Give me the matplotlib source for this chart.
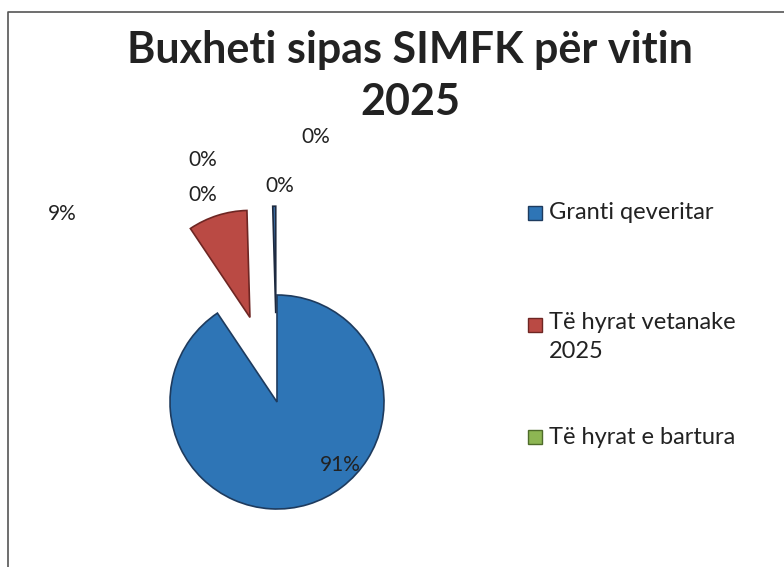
import matplotlib.pyplot as plt
from matplotlib.patches import Rectangle
from matplotlib.lines import Line2D

# data
names = ['Granti qeveritar', 'Të hyrat vetanake\n2025', 'Të hyrat e bartura']
values = [90.6, 8.95, 0.0, 0.0, 0.45, 0.0]
colors = ['#2E75B6', '#BA4A44', '#8DB653', '#7F63A1', '#3D6FA5', '#F08A3C']
edges = ['#1E3B5E', '#6E2623', '#4E6B2A', '#45345C', '#1E2A40', '#8A4A1A']
explode = [0, 0.83, 0.83, 0.83, 0.83, 0.83]
# label centres in pixels (x, y), same order as values
label_px = [(340, 465), (62, 214), (203, 160), (203, 195), (280, 186), (316, 137)]

W, H = 784, 567
CX, CY, R = 277, 402, 107  # pie centre / radius in pixels

plt.rcParams['font.family'] = ['Lato', 'DejaVu Sans']

fig = plt.figure(figsize=(W / 100, H / 100), dpi=100)
ax = fig.add_axes([0, 0, 1, 1])


def px(x, y):
    return (x - CX) / R, (CY - y) / R


wedges, texts, autotexts = ax.pie(values, colors=colors, explode=explode, startangle=90,
                                  counterclock=False, radius=1, center=(0, 0),
                                  autopct='%.0f%%', frame=True,
                                  wedgeprops=dict(linewidth=1.2))
ax.set_xlim(-CX / R, (W - CX) / R)
ax.set_ylim(-(H - CY) / R, CY / R)
ax.set_aspect('equal')
ax.axis('off')
for w, ec, v in zip(wedges, edges, values):
    w.set_edgecolor(ec)
    if v == 0:
        w.set_linewidth(0)
for t, (x, y) in zip(autotexts, label_px):
    t.set_position(px(x, y))
    t.set_fontsize(15)
    t.set_color('#222222')
    t.set_ha('center')
    t.set_va('center')

# title
fig.text(410 / W, 1 - 50 / H, 'Buxheti sipas SIMFK për vitin', ha='center', va='center',
         fontsize=31, fontweight='bold', color='#222222')
fig.text(410 / W, 1 - 102 / H, '2025', ha='center', va='center',
         fontsize=31, fontweight='bold', color='#222222')

# legend
leg_y = [213, 325, 437]
for name, c, ec, y in zip(names, colors, edges, leg_y):
    fig.patches.append(Rectangle((528 / W, 1 - (y + 7) / H), 14 / W, 14 / H,
                                 transform=fig.transFigure, facecolor=c,
                                 edgecolor=ec, linewidth=1))
    if '\n' in name:
        fig.text(549 / W, 1 - (y - 13) / H, name, ha='left', va='top',
                 fontsize=17, color='#222222', linespacing=1.45)
    else:
        fig.text(549 / W, 1 - y / H, name, ha='left', va='center',
                 fontsize=17, color='#222222')

# chart border
fig.lines.append(Line2D([8 / W, 8 / W, 1.0], [0.0, 1 - 12 / H, 1 - 12 / H],
                        transform=fig.transFigure, color='#555555', linewidth=1.2))

fig.savefig('out.png', dpi=100, facecolor='white')
